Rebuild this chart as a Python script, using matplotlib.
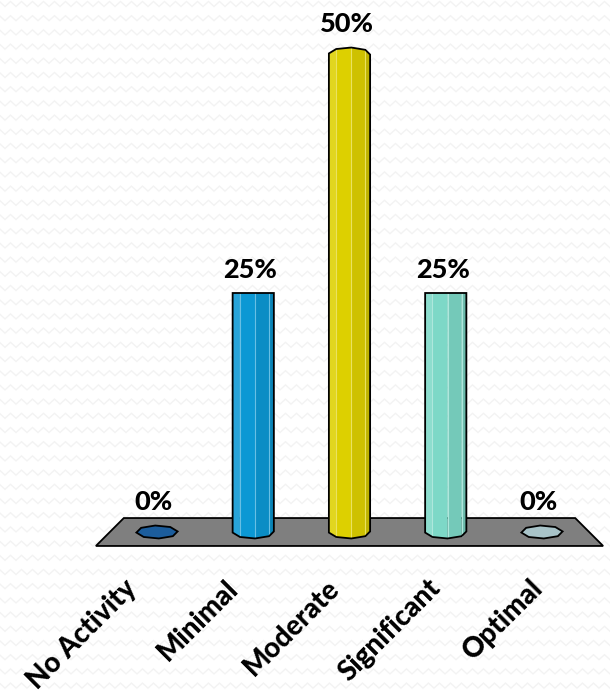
import numpy as np
import matplotlib
matplotlib.use("Agg")
import matplotlib.pyplot as plt
from matplotlib.patches import Polygon

categories = ["No Activity", "Minimal", "Moderate", "Significant", "Optimal"]
values = [0, 25, 50, 25, 0]
colors = ["#1c5d9c", "#0b98d4", "#ddd000", "#7dd8c7", "#a8c3c8"]

W, H = 610, 696
fig = plt.figure(figsize=(W / 100, H / 100), dpi=100)
fig.patch.set_facecolor("white")

# faint zigzag background pattern
bg = fig.add_axes([0, 0, 1, 1], zorder=0)
bg.set_xlim(0, W)
bg.set_ylim(H, 0)
bg.axis("off")
zx = np.arange(-6, W + 12, 5.5)
for row in np.arange(4, H + 14, 14.2):
    zy = row + np.where(np.arange(len(zx)) % 2 == 0, 2.5, -2.5)
    bg.plot(zx, zy, color="#f3f3f3", lw=1.0, solid_joinstyle="miter")

# chart axes: x in category index, y in percent
px_per_cat = 96.25
px_per_pct = 9.56
x0_px, y0_px = 157, 532
ax = fig.add_axes([0, 0, 1, 1], zorder=1)
ax.set_xlim(-x0_px / px_per_cat, (W - x0_px) / px_per_cat)
ax.set_ylim((y0_px - H) / px_per_pct, y0_px / px_per_pct)
ax.axis("off")
ax.patch.set_alpha(0)

# floor
fl_pad, fl_skew, fl_half = 0.49, 0.145, 1.46
n = len(categories)
floor = [(-fl_pad + fl_skew, fl_half), (n - 1 + fl_pad - fl_skew, fl_half),
         (n - 1 + fl_pad + fl_skew, -fl_half), (-fl_pad - fl_skew, -fl_half)]
ax.add_patch(Polygon(floor, closed=True, facecolor="#7f7f7f", edgecolor="black",
                     lw=1.3, zorder=2))

r = 0.215
D = 0.68
eye = 25.0
front = np.radians([175, 130, 85, 40, -5])
shades = [1.08, 1.0, 0.93, 0.86]


def shade(c, f):
    rgb = np.array(matplotlib.colors.to_rgb(c))
    if f > 1:
        rgb = rgb + (1 - rgb) * (f - 1) * 1.5
    else:
        rgb = rgb * f
    return np.clip(rgb, 0, 1)


for i, (v, c) in enumerate(zip(values, colors)):
    if v == 0:
        ang = np.radians(-5 + 45 * np.arange(8))
        pts = np.column_stack([i + r * np.cos(ang), -D * np.sin(ang)])
        ax.add_patch(Polygon(pts, closed=True, facecolor=c, edgecolor="black",
                             lw=1.3, zorder=3))
        top = D
    else:
        db = D * (eye - 0) / eye
        dt = D * (eye - v) / eye
        bot = np.column_stack([i + r * np.cos(front), 0 - db * np.sin(front)])
        tp = np.column_stack([i + r * np.cos(front), v - dt * np.sin(front)])
        for k in range(4):
            quad = [bot[k], bot[k + 1], tp[k + 1], tp[k]]
            ax.add_patch(Polygon(quad, closed=True, facecolor=shade(c, shades[k]),
                                 edgecolor="none", zorder=3))
        for k in (1, 2, 3):
            ax.plot([bot[k, 0], tp[k, 0]], [bot[k, 1], tp[k, 1]],
                    color=shade(c, 1.25), lw=0.8, zorder=4)
        outline = np.vstack([bot, tp[::-1]])
        ax.add_patch(Polygon(outline, closed=True, facecolor="none",
                             edgecolor="black", lw=1.3, zorder=5))
        top = abs(dt)
    ax.text(i - 3 / px_per_cat, v + top + 15 / px_per_pct, f"{v}%", ha="center",
            va="baseline", fontsize=19.5, fontweight="black", family="Lato",
            color="black", zorder=6)

# category labels along the front edge of the floor
front_left = -fl_pad - fl_skew
front_w = (n - 1 + 2 * fl_pad + 2 * fl_skew) / n
for i, cat in enumerate(categories):
    xt = front_left + front_w * (i + 0.5) - 14 / px_per_cat
    ax.text(xt, -52 / px_per_pct, cat, rotation=45, rotation_mode="anchor",
            ha="right", va="center", fontsize=20, fontweight="black",
            family="Lato", color="black", zorder=6)

fig.savefig("out.png", dpi=100)
